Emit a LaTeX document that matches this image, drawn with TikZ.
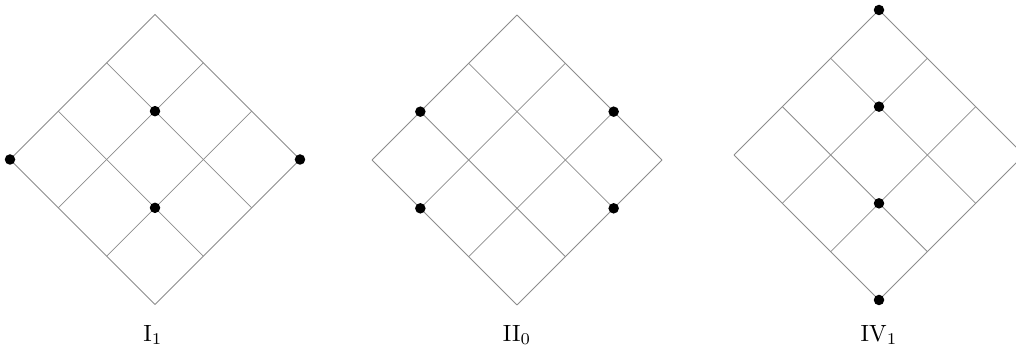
\documentclass[tikz,border=0pt]{standalone}
\begin{document}
\begin{tikzpicture}[x=1pt,y=-1pt,
  gridline/.style={draw=black!45,line width=0.8pt},
  dot/.style={circle,fill=black,inner sep=0pt,minimum size=10.5pt},
  lab/.style={font=\normalsize,inner sep=0pt,scale=2.35}]
\useasboundingbox (0,0) rectangle (1016,358);
\def\dd{48.33}
\foreach \n/\cx/\tp in {A/155/14.5, B/517/15, C/879/10} {
  \foreach \i in {0,...,3} {
    \foreach \j in {0,...,3} {
      \coordinate (\n\i\j) at ({\cx+(\i-\j)*\dd},{\tp+(\i+\j)*\dd});
    }
  }
}
\foreach \n in {A,B,C} {
  \foreach \k in {0,...,3} {
    \draw[gridline] (\n\k0) -- (\n\k3);
    \draw[gridline] (\n0\k) -- (\n3\k);
  }
}
\foreach \p in {A03,A30,A11,A22,B02,B13,B20,B31,C00,C11,C22,C33} {
  \node[dot] (d\p) at (\p) {};
}
\node[lab] (la) at (153,335) {$\mathrm{I}_1$};
\node[lab] (lb) at (517,335) {$\mathrm{II}_0$};
\node[lab] (lc) at (879,335) {$\mathrm{IV}_1$};
\end{tikzpicture}
\end{document}
